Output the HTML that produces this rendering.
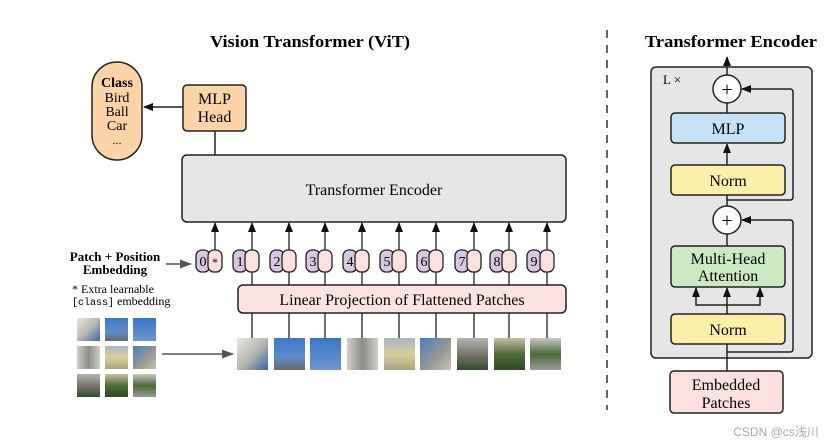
<!DOCTYPE html>
<html><head><meta charset="utf-8"><style>
html,body{margin:0;padding:0;background:#fff;}
svg{display:block;font-family:"Liberation Serif",serif;}
</style></head><body>
<svg width="837" height="447" viewBox="0 0 837 447" xmlns="http://www.w3.org/2000/svg">
<defs>
<marker id="ah" markerWidth="10" markerHeight="10" refX="9" refY="5" orient="auto" markerUnits="userSpaceOnUse"><path d="M0,1 L10,5 L0,9 Z" fill="#111"/></marker>
<marker id="ahg" markerWidth="12" markerHeight="10" refX="11" refY="5" orient="auto" markerUnits="userSpaceOnUse"><path d="M0,0.5 L12,5 L0,9.5 Z" fill="#555"/></marker>
<linearGradient id="p1" x1="0" y1="0" x2="1" y2="1"><stop offset="0" stop-color="#e8e8e8"/><stop offset="0.5" stop-color="#b8b8b0"/><stop offset="1" stop-color="#3b67a8"/></linearGradient>
<linearGradient id="p2" x1="0" y1="0" x2="0" y2="1"><stop offset="0" stop-color="#3f78c4"/><stop offset="0.6" stop-color="#5d8ccc"/><stop offset="1" stop-color="#6b6b68"/></linearGradient>
<linearGradient id="p3" x1="0" y1="0" x2="0" y2="1"><stop offset="0" stop-color="#3b74c6"/><stop offset="1" stop-color="#6e96cf"/></linearGradient>
<linearGradient id="p4" x1="0" y1="0" x2="1" y2="0"><stop offset="0" stop-color="#d0d0cc"/><stop offset="0.5" stop-color="#8c8c88"/><stop offset="1" stop-color="#cfcfca"/></linearGradient>
<linearGradient id="p5" x1="0" y1="0" x2="0" y2="1"><stop offset="0" stop-color="#a8b4c8"/><stop offset="0.5" stop-color="#d9cf9c"/><stop offset="1" stop-color="#a9a27c"/></linearGradient>
<linearGradient id="p6" x1="0" y1="0" x2="1" y2="1"><stop offset="0" stop-color="#4a7cc0"/><stop offset="0.6" stop-color="#9a9a94"/><stop offset="1" stop-color="#c8c6b8"/></linearGradient>
<linearGradient id="p7" x1="0" y1="0" x2="0" y2="1"><stop offset="0" stop-color="#b4b4ae"/><stop offset="0.6" stop-color="#6c6c62"/><stop offset="1" stop-color="#2f4d2a"/></linearGradient>
<linearGradient id="p8" x1="0" y1="0" x2="0" y2="1"><stop offset="0" stop-color="#c8c0a0"/><stop offset="0.5" stop-color="#4e6b3a"/><stop offset="1" stop-color="#2f4a26"/></linearGradient>
<linearGradient id="p9" x1="0" y1="0" x2="0" y2="1"><stop offset="0" stop-color="#c9c9c2"/><stop offset="0.5" stop-color="#4a6a3a"/><stop offset="1" stop-color="#9a9a96"/></linearGradient>
</defs>

<text x="310" y="47" font-size="17" font-weight="bold" text-anchor="middle" textLength="200" lengthAdjust="spacingAndGlyphs">Vision Transformer (ViT)</text>

<rect x="92" y="62" width="50" height="98" rx="25" fill="#fdd3a8" stroke="#222" stroke-width="1.5"/>
<text x="117" y="87" font-size="14" font-weight="bold" text-anchor="middle">Class</text>
<text x="117" y="102" font-size="14" text-anchor="middle">Bird</text>
<text x="117" y="116" font-size="14" text-anchor="middle">Ball</text>
<text x="117" y="130" font-size="14" text-anchor="middle">Car</text>
<text x="117" y="144" font-size="12" text-anchor="middle">...</text>

<rect x="183" y="85" width="63" height="46" rx="4" fill="#fdd3a8" stroke="#222" stroke-width="1.5"/>
<text x="214.5" y="104" font-size="16" text-anchor="middle">MLP</text>
<text x="214.5" y="122" font-size="16" text-anchor="middle">Head</text>
<line x1="183" y1="107" x2="144" y2="107" stroke="#222" stroke-width="1.5" marker-end="url(#ah)"/>
<line x1="215" y1="131" x2="215" y2="155" stroke="#222" stroke-width="1.5"/>

<rect x="182" y="155" width="384" height="67" rx="5" fill="#e6e6e6" stroke="#222" stroke-width="1.5"/>
<text x="374" y="195" font-size="16" text-anchor="middle">Transformer Encoder</text>

<g stroke="#222" stroke-width="1.3">
<line x1="215" y1="250" x2="215" y2="223" marker-end="url(#ah)"/>
<rect x="196" y="250" width="14" height="22" rx="6" fill="#d9c7e0"/>
<rect x="208" y="250" width="14" height="22" rx="6" fill="#fde0e0"/>
</g>
<text x="203" y="266" font-size="14" text-anchor="middle">0</text>
<text x="215" y="266" font-size="12" text-anchor="middle">*</text>

<g stroke="#222" stroke-width="1.3">
<line x1="252" y1="250" x2="252" y2="223" marker-end="url(#ah)"/><line x1="252" y1="272" x2="252" y2="285"/><line x1="252" y1="313" x2="252" y2="338"/>
<rect x="233" y="250" width="14" height="22" rx="6" fill="#d9c7e0"/><rect x="245" y="250" width="14" height="22" rx="6" fill="#fde0e0"/>
<line x1="289" y1="250" x2="289" y2="223" marker-end="url(#ah)"/><line x1="289" y1="272" x2="289" y2="285"/><line x1="289" y1="313" x2="289" y2="338"/>
<rect x="270" y="250" width="14" height="22" rx="6" fill="#d9c7e0"/><rect x="282" y="250" width="14" height="22" rx="6" fill="#fde0e0"/>
<line x1="325" y1="250" x2="325" y2="223" marker-end="url(#ah)"/><line x1="325" y1="272" x2="325" y2="285"/><line x1="325" y1="313" x2="325" y2="338"/>
<rect x="306" y="250" width="14" height="22" rx="6" fill="#d9c7e0"/><rect x="318" y="250" width="14" height="22" rx="6" fill="#fde0e0"/>
<line x1="362" y1="250" x2="362" y2="223" marker-end="url(#ah)"/><line x1="362" y1="272" x2="362" y2="285"/><line x1="362" y1="313" x2="362" y2="338"/>
<rect x="343" y="250" width="14" height="22" rx="6" fill="#d9c7e0"/><rect x="355" y="250" width="14" height="22" rx="6" fill="#fde0e0"/>
<line x1="399" y1="250" x2="399" y2="223" marker-end="url(#ah)"/><line x1="399" y1="272" x2="399" y2="285"/><line x1="399" y1="313" x2="399" y2="338"/>
<rect x="380" y="250" width="14" height="22" rx="6" fill="#d9c7e0"/><rect x="392" y="250" width="14" height="22" rx="6" fill="#fde0e0"/>
<line x1="436" y1="250" x2="436" y2="223" marker-end="url(#ah)"/><line x1="436" y1="272" x2="436" y2="285"/><line x1="436" y1="313" x2="436" y2="338"/>
<rect x="417" y="250" width="14" height="22" rx="6" fill="#d9c7e0"/><rect x="429" y="250" width="14" height="22" rx="6" fill="#fde0e0"/>
<line x1="474" y1="250" x2="474" y2="223" marker-end="url(#ah)"/><line x1="474" y1="272" x2="474" y2="285"/><line x1="474" y1="313" x2="474" y2="338"/>
<rect x="455" y="250" width="14" height="22" rx="6" fill="#d9c7e0"/><rect x="467" y="250" width="14" height="22" rx="6" fill="#fde0e0"/>
<line x1="509" y1="250" x2="509" y2="223" marker-end="url(#ah)"/><line x1="509" y1="272" x2="509" y2="285"/><line x1="509" y1="313" x2="509" y2="338"/>
<rect x="490" y="250" width="14" height="22" rx="6" fill="#d9c7e0"/><rect x="502" y="250" width="14" height="22" rx="6" fill="#fde0e0"/>
<line x1="547" y1="250" x2="547" y2="223" marker-end="url(#ah)"/><line x1="547" y1="272" x2="547" y2="285"/><line x1="547" y1="313" x2="547" y2="338"/>
<rect x="527" y="250" width="14" height="22" rx="6" fill="#d9c7e0"/><rect x="540" y="250" width="14" height="22" rx="6" fill="#fde0e0"/>
</g>
<g font-size="14" text-anchor="middle">
<text x="240" y="266">1</text><text x="277" y="266">2</text><text x="313" y="266">3</text><text x="350" y="266">4</text><text x="387" y="266">5</text><text x="424" y="266">6</text><text x="462" y="266">7</text><text x="497" y="266">8</text><text x="534" y="266">9</text>
</g>

<rect x="238" y="285" width="328" height="28" rx="5" fill="#fde2e2" stroke="#222" stroke-width="1.5"/>
<text x="402" y="305" font-size="16" text-anchor="middle">Linear Projection of Flattened Patches</text>

<rect x="237" y="338" width="31" height="32" fill="url(#p1)"/>
<rect x="274" y="338" width="31" height="32" fill="url(#p2)"/>
<rect x="310" y="338" width="31" height="32" fill="url(#p3)"/>
<rect x="347" y="338" width="31" height="32" fill="url(#p4)"/>
<rect x="384" y="338" width="31" height="32" fill="url(#p5)"/>
<rect x="420" y="338" width="31" height="32" fill="url(#p6)"/>
<rect x="457" y="338" width="31" height="32" fill="url(#p7)"/>
<rect x="494" y="338" width="31" height="32" fill="url(#p8)"/>
<rect x="530" y="338" width="31" height="32" fill="url(#p9)"/>

<rect x="77" y="318" width="23" height="23" fill="url(#p1)"/>
<rect x="105" y="318" width="23" height="23" fill="url(#p2)"/>
<rect x="133" y="318" width="23" height="23" fill="url(#p3)"/>
<rect x="77" y="346" width="23" height="23" fill="url(#p4)"/>
<rect x="105" y="346" width="23" height="23" fill="url(#p5)"/>
<rect x="133" y="346" width="23" height="23" fill="url(#p6)"/>
<rect x="77" y="374" width="23" height="23" fill="url(#p7)"/>
<rect x="105" y="374" width="23" height="23" fill="url(#p8)"/>
<rect x="133" y="374" width="23" height="23" fill="url(#p9)"/>
<line x1="162" y1="354" x2="233" y2="354" stroke="#555" stroke-width="1.5" marker-end="url(#ahg)"/>

<text x="115" y="261" font-size="13" font-weight="bold" text-anchor="middle">Patch + Position</text>
<text x="115" y="274" font-size="13" font-weight="bold" text-anchor="middle">Embedding</text>
<line x1="166" y1="264" x2="191" y2="264" stroke="#555" stroke-width="1.5" marker-end="url(#ahg)"/>
<text x="72" y="293" font-size="12">* Extra learnable</text>
<text x="72" y="305" font-size="12"><tspan font-family="Liberation Mono, monospace" font-size="10">[class]</tspan> embedding</text>

<line x1="607" y1="30" x2="607" y2="410" stroke="#666" stroke-width="2" stroke-dasharray="8,7"/>

<text x="731" y="47" font-size="17" font-weight="bold" text-anchor="middle" textLength="172" lengthAdjust="spacingAndGlyphs">Transformer Encoder</text>

<rect x="651" y="67" width="161" height="291" rx="5" fill="#e6e6e6" stroke="#222" stroke-width="1.5"/>
<text x="663" y="84" font-size="13">L ×</text>

<g stroke="#222" stroke-width="1.5" fill="none">
<line x1="727" y1="75" x2="727" y2="57" marker-end="url(#ah)"/>
<line x1="727" y1="113" x2="727" y2="103"/>
<line x1="727" y1="165" x2="727" y2="144" marker-end="url(#ah)"/>
<line x1="727" y1="195" x2="727" y2="206"/>
<line x1="727" y1="234" x2="727" y2="246"/>
<path d="M727,200 L790,200 Q793,200 793,197 L793,92 Q793,89 790,89 L742,89" marker-end="url(#ah)"/>
<path d="M727,352 L790,352 Q793,352 793,349 L793,223 Q793,220 790,220 L742,220" marker-end="url(#ah)"/>
<line x1="727" y1="371" x2="727" y2="344"/>
<line x1="727" y1="314" x2="727" y2="288" marker-end="url(#ah)"/>
<path d="M696,300 L696,305 L760,305 L760,300"/>
<line x1="696" y1="300" x2="696" y2="288" marker-end="url(#ah)"/>
<line x1="760" y1="300" x2="760" y2="288" marker-end="url(#ah)"/>
</g>

<circle cx="727" cy="89" r="14" fill="#fff" stroke="#222" stroke-width="1.5"/>
<text x="727" y="96" font-size="20" text-anchor="middle">+</text>
<circle cx="727" cy="220" r="14" fill="#fff" stroke="#222" stroke-width="1.5"/>
<text x="727" y="227" font-size="20" text-anchor="middle">+</text>

<rect x="671" y="113" width="114" height="30" rx="4" fill="#c5e3f5" stroke="#222" stroke-width="1.5"/>
<text x="728" y="134" font-size="16" text-anchor="middle">MLP</text>
<rect x="671" y="165" width="114" height="30" rx="4" fill="#fdeeaa" stroke="#222" stroke-width="1.5"/>
<text x="728" y="186" font-size="16" text-anchor="middle">Norm</text>
<rect x="671" y="246" width="114" height="41" rx="4" fill="#cde9c3" stroke="#222" stroke-width="1.5"/>
<text x="728" y="264" font-size="16" text-anchor="middle">Multi-Head</text>
<text x="728" y="281" font-size="16" text-anchor="middle">Attention</text>
<rect x="671" y="314" width="114" height="30" rx="4" fill="#fdeeaa" stroke="#222" stroke-width="1.5"/>
<text x="728" y="335" font-size="16" text-anchor="middle">Norm</text>

<rect x="670" y="371" width="113" height="42" rx="4" fill="#fde0e0" stroke="#222" stroke-width="1.5"/>
<text x="726" y="390" font-size="16" text-anchor="middle">Embedded</text>
<text x="726" y="408" font-size="16" text-anchor="middle">Patches</text>

<text x="776" y="436" font-size="12" fill="#aaa" text-anchor="middle" font-family="Liberation Sans, Noto Sans CJK SC, sans-serif">CSDN @cs浅川</text>
</svg>
</body></html>
